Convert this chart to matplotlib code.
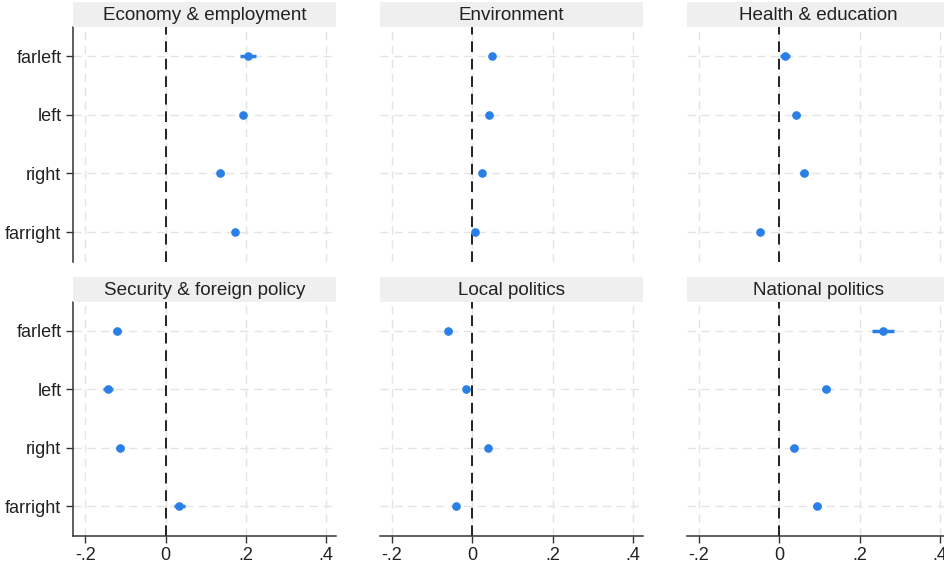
import matplotlib.pyplot as plt
import numpy as np

plt.rcParams['font.family'] = ['Liberation Sans', 'DejaVu Sans']

groups = ['farleft', 'left', 'right', 'farright']
topics = ['Economy & employment', 'Environment', 'Health & education',
          'Security & foreign policy', 'Local politics', 'National politics']

# point estimates per topic, in the order of groups
econ = [0.205, 0.192, 0.136, 0.172]
env = [0.050, 0.042, 0.025, 0.006]
health = [0.014, 0.042, 0.062, -0.047]
security = [-0.122, -0.143, -0.113, 0.034]
local = [-0.060, -0.016, 0.038, -0.041]
national = [0.258, 0.115, 0.036, 0.094]

# half-width of the 95% intervals
econ_ci = [0.021, 0.008, 0.009, 0.008]
env_ci = [0.006, 0.006, 0.006, 0.008]
health_ci = [0.013, 0.009, 0.010, 0.009]
security_ci = [0.010, 0.012, 0.010, 0.013]
local_ci = [0.009, 0.006, 0.006, 0.006]
national_ci = [0.028, 0.010, 0.009, 0.010]

coefs = [econ, env, health, security, local, national]
cis = [econ_ci, env_ci, health_ci, security_ci, local_ci, national_ci]

xticks = [-0.2, 0, 0.2, 0.4]
xticklabels = ['-.2', '0', '.2', '.4']

W, H = 945, 564
fig = plt.figure(figsize=(W / 100, H / 100), dpi=100)

lefts = [73.3, 380, 687]
width = 263
rows = [(26.7, 261.5), (301.7, 535.5)]
strip_h = 25
blue = '#2a80e6'
ypos = np.arange(1, len(groups) + 1)

for i, topic in enumerate(topics):
    r, c = divmod(i, 3)
    top, bot = rows[r]
    ax = fig.add_axes([lefts[c] / W, 1 - bot / H, width / W, (bot - top) / H])

    # title strip
    sax = fig.add_axes([lefts[c] / W, 1 - top / H, width / W, strip_h / H])
    sax.set_facecolor('#efefef')
    sax.set_xticks([])
    sax.set_yticks([])
    for s in sax.spines.values():
        s.set_visible(False)
    sax.text(0.5, 0.45, topic, ha='center', va='center', fontsize=13.6, color='#222222')

    ax.errorbar(coefs[i], ypos, xerr=cis[i], fmt='o', color=blue, ms=5.2,
                elinewidth=2.5, capsize=0, zorder=3)
    ax.axvline(0, color='#222222', lw=1.4, ls=(0, (5.5, 3.5)), zorder=2)

    ax.set_xlim(-0.23, 0.425)
    ax.set_ylim(len(groups) + 0.5, 0.5)
    ax.set_xticks(xticks)
    ax.set_yticks(ypos)
    ax.grid(True, color='#e4e4e4', lw=1, ls=(0, (6, 4)))
    ax.set_axisbelow(True)

    for s in ['top', 'right']:
        ax.spines[s].set_visible(False)
    for s in ['left', 'bottom']:
        ax.spines[s].set_color('#333333')
        ax.spines[s].set_linewidth(1.1)

    ax.tick_params(colors='#333333', labelcolor='#222222', labelsize=13,
                   length=5, width=1)

    if c == 0:
        ax.set_yticklabels(groups)
    else:
        ax.spines['left'].set_visible(False)
        ax.tick_params(axis='y', left=False, labelleft=False)

    if r == 1:
        ax.set_xticklabels(xticklabels)
    else:
        ax.spines['bottom'].set_visible(False)
        ax.tick_params(axis='x', bottom=False, labelbottom=False)

fig.savefig('out.png', dpi=100)
